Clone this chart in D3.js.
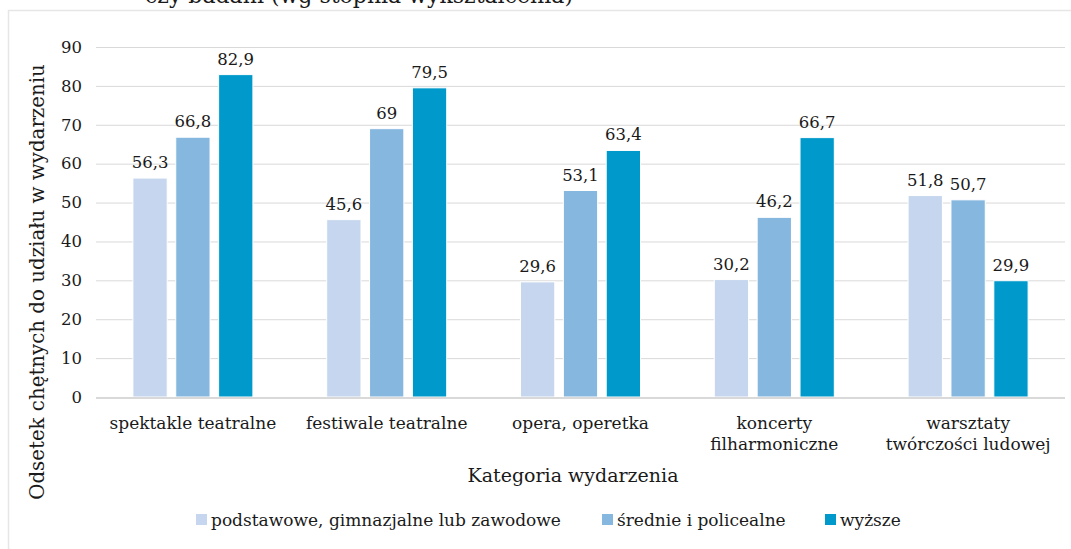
<!DOCTYPE html>
<html>
<head>
<meta charset="utf-8">
<script src="https://cdn.jsdelivr.net/npm/d3@7/dist/d3.min.js"></script>
<style>
  html, body { margin: 0; padding: 0; background: #fff; }
  svg text { font-family: "DejaVu Serif", serif; fill: #1a1a1a; }
</style>
</head>
<body>
<svg id="chart" width="1071" height="549"></svg>
<script>
// categories (multi-line labels)
const categories = [
  ['spektakle teatralne'],
  ['festiwale teatralne'],
  ['opera, operetka'],
  ['koncerty', 'filharmoniczne'],
  ['warsztaty', 'twórczości ludowej'],
];
const seriesNames = [
  'podstawowe, gimnazjalne lub zawodowe',
  'średnie i policealne',
  'wyższe',
];
const podstawowe = [56.3, 45.6, 29.6, 30.2, 51.8];
const srednie = [66.8, 69, 53.1, 46.2, 50.7];
const wyzsze = [82.9, 79.5, 63.4, 66.7, 29.9];
const yTicks = [0, 10, 20, 30, 40, 50, 60, 70, 80, 90];

const colors = ['#c5d6ee', '#86b7df', '#0099cc'];
const series = [podstawowe, srednie, wyzsze];

const svg = d3.select('#chart');

// outer frame (partly visible, like the cropped original)
svg.append('rect')
  .attr('x', 8.5).attr('y', 10.5)
  .attr('width', 1080).attr('height', 560)
  .attr('fill', 'none')
  .attr('stroke', '#e6e6e6')
  .attr('stroke-width', 1.5);

// title, cut off at the top edge
svg.append('text')
  .attr('x', 145).attr('y', 3)
  .attr('font-size', 22)
  .text('czy badani (wg stopnia wykształcenia)');

const margin = { top: 47, left: 96, right: 1065, bottom: 397 };

const x0 = d3.scaleBand()
  .domain(categories.map((d, i) => i))
  .range([margin.left, margin.right]);

const x1 = d3.scaleBand()
  .domain([0, 1, 2])
  .range([0, 120])
  .paddingInner(0.2);

const y = d3.scaleLinear()
  .domain([0, 90])
  .range([margin.bottom, margin.top]);

// gridlines
svg.append('g')
  .selectAll('line')
  .data(yTicks.slice(1))
  .enter()
  .append('line')
  .attr('x1', margin.left)
  .attr('x2', margin.right)
  .attr('y1', (d) => y(d) + 0.5)
  .attr('y2', (d) => y(d) + 0.5)
  .attr('stroke', '#d9d9d9')
  .attr('stroke-width', 1);

// y axis
const yAxis = svg.append('g')
  .attr('transform', `translate(${margin.left},0)`)
  .call(d3.axisLeft(y).tickValues(yTicks).tickSize(0).tickPadding(14));
yAxis.select('.domain').remove();
yAxis.selectAll('text')
  .attr('font-size', 16.5)
  .attr('font-family', '"DejaVu Serif", serif')
  .attr('fill', '#1a1a1a');

// bars
const groups = svg.append('g')
  .selectAll('g')
  .data(categories)
  .enter()
  .append('g')
  .attr('transform', (d, i) => `translate(${x0(i) + (x0.bandwidth() - 120) / 2},0)`);

groups.selectAll('rect')
  .data((d, i) => series.map((s, k) => ({ k: k, v: s[i] })))
  .enter()
  .append('rect')
  .attr('x', (d) => x1(d.k))
  .attr('y', (d) => y(d.v))
  .attr('width', x1.bandwidth())
  .attr('height', (d) => y(0) - y(d.v))
  .attr('fill', (d) => colors[d.k])
  .attr('stroke', '#fff')
  .attr('stroke-width', 1);

groups.selectAll('text.val')
  .data((d, i) => series.map((s, k) => ({ k: k, v: s[i] })))
  .enter()
  .append('text')
  .attr('class', 'val')
  .attr('x', (d) => x1(d.k) + x1.bandwidth() / 2)
  .attr('y', (d) => y(d.v) - 10)
  .attr('text-anchor', 'middle')
  .attr('font-size', 16.5)
  .text((d) => String(d.v).replace('.', ','));

// baseline
svg.append('line')
  .attr('x1', margin.left).attr('x2', margin.right)
  .attr('y1', y(0) + 1).attr('y2', y(0) + 1)
  .attr('stroke', '#d9d9d9')
  .attr('stroke-width', 2);

// category labels
const catLabels = svg.append('g')
  .selectAll('text')
  .data(categories)
  .enter()
  .append('text')
  .attr('x', (d, i) => x0(i) + x0.bandwidth() / 2)
  .attr('y', 429)
  .attr('text-anchor', 'middle')
  .attr('font-size', 17);
catLabels.selectAll('tspan')
  .data((d) => d)
  .enter()
  .append('tspan')
  .attr('x', function () { return d3.select(this.parentNode).attr('x'); })
  .attr('dy', (d, i) => (i === 0 ? 0 : 21))
  .text((d) => d);

// axis titles
svg.append('text')
  .attr('x', 573)
  .attr('y', 482)
  .attr('text-anchor', 'middle')
  .attr('font-size', 19)
  .text('Kategoria wydarzenia');

svg.append('text')
  .attr('transform', 'translate(44,282) rotate(-90)')
  .attr('text-anchor', 'middle')
  .attr('font-size', 19.8)
  .text('Odsetek chętnych do udziału w wydarzeniu');

// legend
const legendX = [196, 602, 825];
const legend = svg.append('g')
  .selectAll('g')
  .data(seriesNames)
  .enter()
  .append('g')
  .attr('transform', (d, i) => `translate(${legendX[i]},520)`);
legend.append('rect')
  .attr('x', 0).attr('y', -6)
  .attr('width', 11).attr('height', 11)
  .attr('fill', (d, i) => colors[i]);
legend.append('text')
  .attr('x', 15).attr('y', 6)
  .attr('font-size', 17)
  .text((d) => d);
</script>
</body>
</html>
